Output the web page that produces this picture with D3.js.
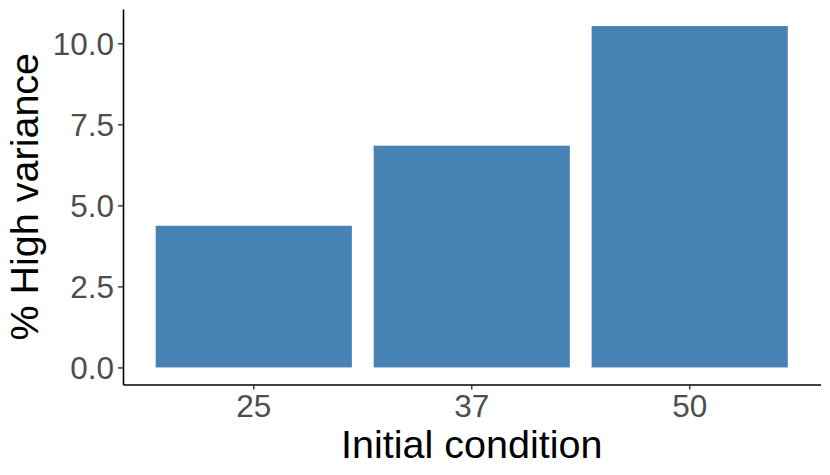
<!DOCTYPE html>
<html>
<head>
<meta charset="utf-8">
<script src="https://cdn.jsdelivr.net/npm/d3@7"></script>
<style>
  body { margin: 0; background: #fff; }
  text { font-family: "Liberation Sans", Arial, sans-serif; }
</style>
</head>
<body>
<svg id="chart" width="830" height="475"></svg>
<script>
// data
var categories = ["25", "37", "50"];
var highVariance = [4.37, 6.84, 10.53];
var yTicks = [0, 2.5, 5, 7.5, 10];

var width = 830, height = 475;
var margin = {top: 9, right: 9.5, bottom: 90.5, left: 123};

var svg = d3.select("#chart");

var x = d3.scaleBand()
    .domain(categories)
    .range([margin.left, width - margin.right])
    .paddingInner(0.1)
    .paddingOuter(0.15);

// ggplot style 5% expansion
var yMax = d3.max(highVariance);
var y = d3.scaleLinear()
    .domain([-0.05 * yMax, yMax * 1.05])
    .range([height - margin.bottom, margin.top]);

/* bars */
svg.append("g")
  .selectAll("rect")
  .data(highVariance)
  .enter()
  .append("rect")
    .attr("x", (d, i) => x(categories[i]))
    .attr("width", x.bandwidth())
    .attr("y", d => y(d))
    .attr("height", d => y(0) - y(d))
    .attr("fill", "#4682B4");

/* axes */
var xAxis = svg.append("g")
    .attr("transform", "translate(0," + (height - margin.bottom) + ")")
    .call(d3.axisBottom(x).tickSize(5).tickPadding(5).tickSizeOuter(0));

var yAxis = svg.append("g")
    .attr("transform", "translate(" + margin.left + ",0)")
    .call(d3.axisLeft(y).tickValues(yTicks).tickFormat(d3.format(".1f"))
      .tickSize(5).tickPadding(4).tickSizeOuter(0));

[xAxis, yAxis].forEach(function(g) {
    g.select(".domain").attr("stroke", "#000").attr("stroke-width", 1.6);
    g.selectAll(".tick line").attr("stroke", "#333").attr("stroke-width", 1.4);
    g.selectAll(".tick text")
        .attr("fill", "#4D4D4D")
        .style("font-size", "31.5px")
        .style("font-family", "'Liberation Sans', Arial, sans-serif");
});
xAxis.selectAll(".tick text").attr("dy", "0.71em");
yAxis.selectAll(".tick text").attr("dy", "0.36em");

/* axis titles */
svg.append("text")
    .attr("x", (margin.left + width - margin.right) / 2)
    .attr("y", 458)
    .attr("text-anchor", "middle")
    .style("font-size", "39.5px")
    .attr("fill", "#000")
    .text("Initial condition");

svg.append("text")
    .attr("transform", "translate(38," + ((margin.top + height - margin.bottom) / 2) + ") rotate(-90)")
    .attr("text-anchor", "middle")
    .style("font-size", "39.5px")
    .attr("fill", "#000")
    .text("% High variance");
</script>
</body>
</html>
